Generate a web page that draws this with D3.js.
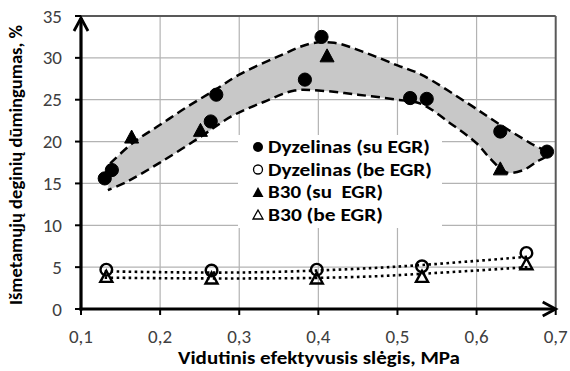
<!DOCTYPE html>
<html><head><meta charset="utf-8">
<script src="https://cdn.jsdelivr.net/npm/d3@7"></script>
<style>body{margin:0;background:#fff}svg{display:block}text{font-family:Carlito,Lato,"Open Sans",sans-serif;white-space:pre}</style>
</head><body><svg id="c" width="570" height="371"></svg>
<script>
// ---- data ----
const xTicks = [0.1,0.2,0.3,0.4,0.5,0.6,0.7];
const yTicks = [0,5,10,15,20,25,30,35];
const seriesNames = ["Dyzelinas (su EGR)","Dyzelinas (be EGR)","B30 (su  EGR)","B30 (be EGR)"];
const dSuX = [0.130,0.139,0.264,0.271,0.383,0.404,0.516,0.537,0.630,0.689];
const dSuY = [15.6,16.6,22.4,25.6,27.4,32.5,25.2,25.1,21.2,18.8];
const bSuX = [0.164,0.251,0.411,0.630];
const bSuY = [20.6,21.4,30.3,16.8];
const beX  = [0.132,0.265,0.398,0.531,0.663];
const dBeY = [4.7,4.6,4.7,5.1,6.7];
const bBeY = [3.9,3.7,3.7,3.9,5.4];
// trend lines (dotted)
const trendX  = [0.13,0.20,0.27,0.33,0.40,0.47,0.53,0.60,0.665];
const trendD  = [4.5,4.4,4.35,4.4,4.6,4.9,5.25,5.75,6.25];
const trendB  = [3.75,3.68,3.65,3.66,3.72,3.9,4.2,4.6,5.0];
// envelope (dashed band)
const upX = [0.137,0.165,0.20,0.235,0.27,0.30,0.35,0.39,0.42,0.46,0.50,0.53,0.59,0.63,0.668,0.690];
const upY = [17.4,19.8,22.0,24.2,26.2,28.0,30.2,31.7,31.8,30.6,29.1,28.0,24.5,22.0,19.8,18.5];
const loX = [0.676,0.659,0.638,0.617,0.600,0.5665,0.53,0.50,0.45,0.40,0.37,0.33,0.29,0.25,0.20,0.16,0.134];
const loY = [17.6,16.6,16.3,18.0,19.8,22.2,24.5,25.0,25.6,26.1,26.1,24.7,23.0,20.5,17.5,15.3,14.2];

// ---- chart ----
const svg = d3.select("#c");
const x = d3.scaleLinear().domain([0.1,0.7]).range([81,555.7]);
const y = d3.scaleLinear().domain([0,35]).range([309,16]);
const fmt = d => d.toFixed(1).replace(".",",");

// grid
const g = svg.append("g");
g.selectAll(".hg").data(yTicks.slice(1,-1)).join("line")
  .attr("x1",x(0.1)).attr("x2",x(0.7)).attr("y1",d=>y(d)).attr("y2",d=>y(d))
  .attr("stroke","#b3b3b3").attr("stroke-width",1.2);
g.selectAll(".vg").data(xTicks.slice(1,-1)).join("line")
  .attr("y1",y(0)).attr("y2",y(35)).attr("x1",d=>x(d)).attr("x2",d=>x(d))
  .attr("stroke","#b3b3b3").attr("stroke-width",1.2);
// border top/right
svg.append("line").attr("x1",x(0.1)).attr("x2",x(0.7)).attr("y1",y(35)).attr("y2",y(35)).attr("stroke","#595959").attr("stroke-width",2);
svg.append("line").attr("x1",x(0.7)).attr("x2",x(0.7)).attr("y1",y(35)).attr("y2",y(0)).attr("stroke","#595959").attr("stroke-width",2);

// envelope
const env = upX.map((v,i)=>[v,upY[i]]).concat(loX.map((v,i)=>[v,loY[i]]));
const lineGen = d3.line().x(d=>x(d[0])).y(d=>y(d[1])).curve(d3.curveCatmullRom.alpha(0.5));
svg.append("path").attr("d",lineGen(env)+"Z").attr("fill","#c8c8c8").attr("stroke","none");
svg.append("path").attr("d",lineGen(env)).attr("fill","none").attr("stroke","#000")
  .attr("stroke-width",2.5).attr("stroke-dasharray","9,5");

// trend lines
[trendD,trendB].forEach(t=>{
  svg.append("path").attr("d",lineGen(trendX.map((v,i)=>[v,t[i]]))).attr("fill","none")
    .attr("stroke","#000").attr("stroke-width",2.6).attr("stroke-dasharray","2.6,3.4");
});

// legend box (white, covers grid)
svg.append("rect").attr("x",238).attr("y",135).attr("width",204).attr("height",93).attr("fill","#fff");

// marker helpers
const tri = (w,h)=>`M0,${-h/2}L${w/2},${h/2}L${-w/2},${h/2}Z`;
function circles(xs,ys,filled,r){
  svg.append("g").selectAll("circle").data(xs.map((v,i)=>[v,ys[i]])).join("circle")
    .attr("cx",d=>x(d[0])).attr("cy",d=>y(d[1])).attr("r",r)
    .attr("fill",filled?"#000":"none").attr("stroke","#000").attr("stroke-width",filled?1:2.4);
}
function triangles(xs,ys,filled,w,h){
  svg.append("g").selectAll("path").data(xs.map((v,i)=>[v,ys[i]])).join("path")
    .attr("transform",d=>`translate(${x(d[0])},${y(d[1])})`).attr("d",tri(w,h))
    .attr("fill",filled?"#000":"none").attr("stroke","#000").attr("stroke-width",filled?1:2.4)
    .attr("stroke-linejoin","miter");
}
circles(dSuX,dSuY,true,6.6);
circles(beX,dBeY,false,5.8);
triangles(bSuX,bSuY,true,14,13);
triangles(beX,bBeY,false,12,11);

// axes
const ax = svg.append("g");
ax.selectAll(".yt").data(yTicks).join("line").attr("x1",75).attr("x2",x(0.1)).attr("y1",d=>y(d)).attr("y2",d=>y(d)).attr("stroke","#000").attr("stroke-width",2);
ax.selectAll(".xt").data(xTicks).join("line").attr("y1",y(0)).attr("y2",315).attr("x1",d=>x(d)).attr("x2",d=>x(d)).attr("stroke","#000").attr("stroke-width",2);
ax.append("line").attr("x1",x(0.1)).attr("x2",x(0.1)).attr("y1",y(0)+1.5).attr("y2",y(35)+2).attr("stroke","#000").attr("stroke-width",3.2);
ax.append("line").attr("x1",x(0.1)-1.5).attr("x2",x(0.7)-1).attr("y1",y(0)).attr("y2",y(0)).attr("stroke","#000").attr("stroke-width",3.2);
// arrowheads
ax.append("path").attr("d",`M${x(0.1)-7},${y(35)+15}L${x(0.1)},${y(35)+2}L${x(0.1)+7},${y(35)+15}`).attr("fill","none").attr("stroke","#000").attr("stroke-width",2.8);
ax.append("path").attr("d",`M${x(0.7)-13},${y(0)-7}L${x(0.7)},${y(0)}L${x(0.7)-13},${y(0)+7}`).attr("fill","none").attr("stroke","#000").attr("stroke-width",2.8);

// tick labels
svg.selectAll(".yl").data(yTicks).join("text").attr("x",62).attr("y",d=>y(d)).attr("text-anchor","end")
  .attr("dominant-baseline","central").attr("font-size",19).attr("fill","#404040").text(d=>d);
svg.selectAll(".xl").data(xTicks).join("text").attr("x",d=>x(d)).attr("y",336).attr("text-anchor","middle")
  .attr("dominant-baseline","central").attr("font-size",19).attr("fill","#404040").text(fmt);

// axis titles
svg.append("text").attr("x",319).attr("y",358).attr("text-anchor","middle").attr("dominant-baseline","central")
  .attr("font-size",18).attr("font-weight","bold").attr("fill","#000")
  .attr("textLength",282).attr("lengthAdjust","spacingAndGlyphs").text("Vidutinis efektyvusis slėgis, MPa");
svg.append("text").attr("transform","translate(16,165) rotate(-90)").attr("text-anchor","middle").attr("dominant-baseline","central")
  .attr("font-size",18).attr("font-weight","bold").attr("fill","#000")
  .attr("textLength",280).attr("lengthAdjust","spacingAndGlyphs").text("Išmetamųjų deginių dūmingumas, %");

// legend
const legY = [147,169.5,192,214.5];
const legW = [162,164,115,115];
const lg = svg.append("g");
legY.forEach((ly,i)=>{
  if(i===0) lg.append("circle").attr("cx",258).attr("cy",ly).attr("r",5).attr("fill","#000");
  if(i===1) lg.append("circle").attr("cx",258).attr("cy",ly).attr("r",4.5).attr("fill","none").attr("stroke","#000").attr("stroke-width",1.3);
  if(i===2) lg.append("path").attr("transform",`translate(258,${ly})`).attr("d",tri(11,10)).attr("fill","#000");
  if(i===3) lg.append("path").attr("transform",`translate(258,${ly})`).attr("d",tri(10,9)).attr("fill","none").attr("stroke","#000").attr("stroke-width",1.3);
  lg.append("text").attr("x",268).attr("y",ly).attr("dominant-baseline","central").attr("font-size",18)
    .attr("font-weight","bold").attr("fill","#000").attr("xml:space","preserve")
    .attr("textLength",legW[i]).attr("lengthAdjust","spacingAndGlyphs").text(seriesNames[i]);
});
</script></body></html>
